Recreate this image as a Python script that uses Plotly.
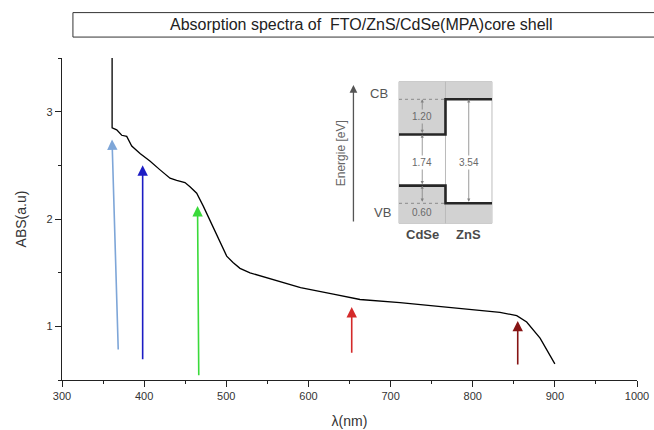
import plotly.graph_objects as go

# ---------------- data ----------------
wavelength = [361, 361, 366.6, 372.7, 378.8, 384.9, 395, 407, 419, 431.5, 439.6, 449.7,
              455.8, 464, 472, 480, 488.3, 496, 500.5, 508.2, 516.7, 528.9, 549.2, 590.4,
              630.3, 662.8, 711.5, 752, 784.5, 808.9, 833.2, 853.6, 865.7, 882, 900]
absorbance = [3.5, 2.85, 2.83, 2.78, 2.77, 2.68, 2.61, 2.54, 2.46, 2.38, 2.36, 2.34,
              2.30, 2.24, 2.12, 1.99, 1.84, 1.72, 1.654, 1.595, 1.54, 1.498, 1.453, 1.36,
              1.30, 1.25, 1.22, 1.19, 1.165, 1.15, 1.13, 1.10, 1.04, 0.89, 0.65]

# arrows (tail -> tip)
arrow_tail_x = [368.5, 398.2, 466.5, 652.7, 854.8]
arrow_tail_y = [0.77, 0.68, 0.53, 0.74, 0.63]
arrow_tip_x = [360.9, 398.2, 465.0, 652.7, 854.8]
arrow_tip_y = [2.74, 2.50, 2.12, 1.18, 1.05]
arrow_colors = ["#7ea6d8", "#1c1cc4", "#3ada3a", "#d42a2a", "#861414"]

x_ticks = [300, 400, 500, 600, 700, 800, 900, 1000]
y_ticks = [1, 2, 3]

# inset band diagram (eV, relative to ZnS valence band)
columns = ["CdSe", "ZnS"]
vb_level = [0.60, 0.00]
cb_level = [2.34, 3.54]
gap_labels = ["1.74", "3.54"]
offset_labels = ["1.20", "0.60"]

# ---------------- figure ----------------
fig = go.Figure()

fig.add_trace(go.Scatter(x=wavelength, y=absorbance, mode="lines",
                         line=dict(color="black", width=1.3),
                         showlegend=False, hoverinfo="skip"))

annotations = []
for tx, ty, hx, hy, c in zip(arrow_tail_x, arrow_tail_y, arrow_tip_x, arrow_tip_y, arrow_colors):
    annotations.append(dict(x=hx, y=hy, ax=tx, ay=ty, xref="x", yref="y",
                            axref="x", ayref="y", text="", showarrow=True,
                            arrowhead=2, arrowsize=1.3, arrowwidth=1.6,
                            arrowcolor=c))

# ---- inset ----
box_top, box_bot = 4.139, -0.681
shapes = []
gray = "#d2d2d2"
shapes.append(dict(type="rect", xref="x2", yref="y2", x0=0, x1=2, y0=box_bot, y1=box_top,
                   fillcolor="white", line=dict(color="#bdbdbd", width=1), layer="below"))
for i in range(2):
    shapes.append(dict(type="rect", xref="x2", yref="y2", x0=i, x1=i + 1,
                       y0=cb_level[i], y1=box_top, fillcolor=gray, line_width=0, layer="below"))
    shapes.append(dict(type="rect", xref="x2", yref="y2", x0=i, x1=i + 1,
                       y0=box_bot, y1=vb_level[i], fillcolor=gray, line_width=0, layer="below"))
shapes.append(dict(type="line", xref="x2", yref="y2", x0=1, x1=1, y0=box_bot, y1=box_top,
                   line=dict(color="#bbbbbb", width=1), layer="below"))
shapes.append(dict(type="line", xref="x2", yref="y2", x0=0, x1=1, y0=cb_level[1], y1=cb_level[1],
                   line=dict(color="#8a8a8a", width=1, dash="dot")))
shapes.append(dict(type="line", xref="x2", yref="y2", x0=0, x1=1, y0=vb_level[1], y1=vb_level[1],
                   line=dict(color="#8a8a8a", width=1, dash="dot")))

cb_x = [0, 1, 1, 2]
cb_y = [cb_level[0], cb_level[0], cb_level[1], cb_level[1]]
vb_x = [0, 1, 1, 2]
vb_y = [vb_level[0], vb_level[0], vb_level[1], vb_level[1]]
for bx, by in ((cb_x, cb_y), (vb_x, vb_y)):
    fig.add_trace(go.Scatter(x=bx, y=by, xaxis="x2", yaxis="y2", mode="lines",
                             line=dict(color="#262626", width=2.6), showlegend=False,
                             hoverinfo="skip"))

annotations.append(dict(x=-0.98, y=4.03, ax=-0.98, ay=-0.67, xref="x2", yref="y2",
                        axref="x2", ayref="y2", text="", showarrow=True, arrowhead=2,
                        arrowsize=1.2, arrowwidth=1.3, arrowcolor="#555555"))
annotations.append(dict(x=-1.25, y=1.7, xref="x2", yref="y2", text="Energie [eV]",
                        textangle=-90, showarrow=False,
                        font=dict(family="Liberation Sans", size=12, color="#666666")))
annotations.append(dict(x=-0.42, y=3.75, xref="x2", yref="y2", text="CB", showarrow=False,
                        font=dict(family="Liberation Sans", size=13, color="#555555")))
annotations.append(dict(x=-0.36, y=-0.33, xref="x2", yref="y2", text="VB", showarrow=False,
                        font=dict(family="Liberation Sans", size=13, color="#555555")))
for i, name in enumerate(columns):
    annotations.append(dict(x=i + 0.5, y=-1.05, xref="x2", yref="y2", text="<b>%s</b>" % name,
                            showarrow=False,
                            font=dict(family="Liberation Sans", size=13, color="#4a4a4a")))

dbl = [(0.5, cb_level[0], cb_level[1]), (0.5, vb_level[0], cb_level[0]),
       (0.5, vb_level[1], vb_level[0]), (1.5, vb_level[1], cb_level[1])]
for x, y0, y1 in dbl:
    annotations.append(dict(x=x, y=y1, ax=x, ay=y0, xref="x2", yref="y2", axref="x2",
                            ayref="y2", text="", showarrow=True, arrowhead=2,
                            arrowside="end+start", arrowsize=0.8, arrowwidth=0.8,
                            arrowcolor="#808080"))
lbl_font = dict(family="Liberation Sans", size=10, color="#6a6a6a")
annotations.append(dict(x=0.5, y=(cb_level[0] + cb_level[1]) / 2, xref="x2", yref="y2",
                        text=offset_labels[0], showarrow=False, bgcolor=gray, font=lbl_font))
annotations.append(dict(x=0.5, y=1.4, xref="x2", yref="y2", text=gap_labels[0],
                        showarrow=False, bgcolor="white", font=lbl_font))
annotations.append(dict(x=1.5, y=1.4, xref="x2", yref="y2", text=gap_labels[1],
                        showarrow=False, bgcolor="white", font=lbl_font))
annotations.append(dict(x=0.5, y=-0.3, xref="x2", yref="y2", text=offset_labels[1],
                        showarrow=False, bgcolor=gray, font=lbl_font))

# title box
shapes.append(dict(type="rect", xref="paper", yref="paper", x0=0.019, x1=1.05,
                   y0=1.065, y1=1.141, line=dict(color="#333333", width=1),
                   fillcolor="white"))
annotations.append(dict(x=0.52, y=1.103, xref="paper", yref="paper",
                        text="Absorption spectra of  FTO/ZnS/CdSe(MPA)core shell",
                        showarrow=False, yanchor="middle",
                        font=dict(family="Liberation Sans", size=16, color="#222222")))

axis_font = dict(family="Liberation Sans", size=11, color="#333333")
fig.update_layout(
    width=654, height=430,
    margin=dict(l=62, r=17, t=58, b=50),
    paper_bgcolor="white", plot_bgcolor="white",
    showlegend=False,
    xaxis=dict(range=[300, 1000], tickvals=x_ticks, ticks="outside", ticklen=6,
               tickcolor="#222", showline=True, linecolor="#222", linewidth=1.2,
               showgrid=False, zeroline=False, tickfont=axis_font, automargin=False,
               minor=dict(dtick=50, tick0=300, ticks="outside", ticklen=3, tickcolor="#222"),
               title=dict(text="λ(nm)", font=dict(family="Liberation Sans", size=14,
                                                    color="#333333"), standoff=14)),
    yaxis=dict(range=[0.5, 3.5], tickvals=y_ticks, ticks="outside", ticklen=6,
               tickcolor="#222", showline=True, linecolor="#222", linewidth=1.2,
               showgrid=False, zeroline=False, tickfont=axis_font, automargin=False,
               minor=dict(dtick=0.5, tick0=0.5, ticks="outside", ticklen=3, tickcolor="#222"),
               title=dict(text="ABS(a.u)", font=dict(family="Liberation Sans", size=14,
                                                       color="#333333"), standoff=16)),
    xaxis2=dict(domain=[0.4661, 0.7617], range=[-1.484, 2.172], anchor="y2",
                visible=False, fixedrange=True),
    yaxis2=dict(domain=[0.4037, 0.9627], range=[-1.590, 4.537], anchor="x2",
                visible=False, fixedrange=True),
    shapes=shapes,
    annotations=annotations,
)

fig.write_html("out.html")
